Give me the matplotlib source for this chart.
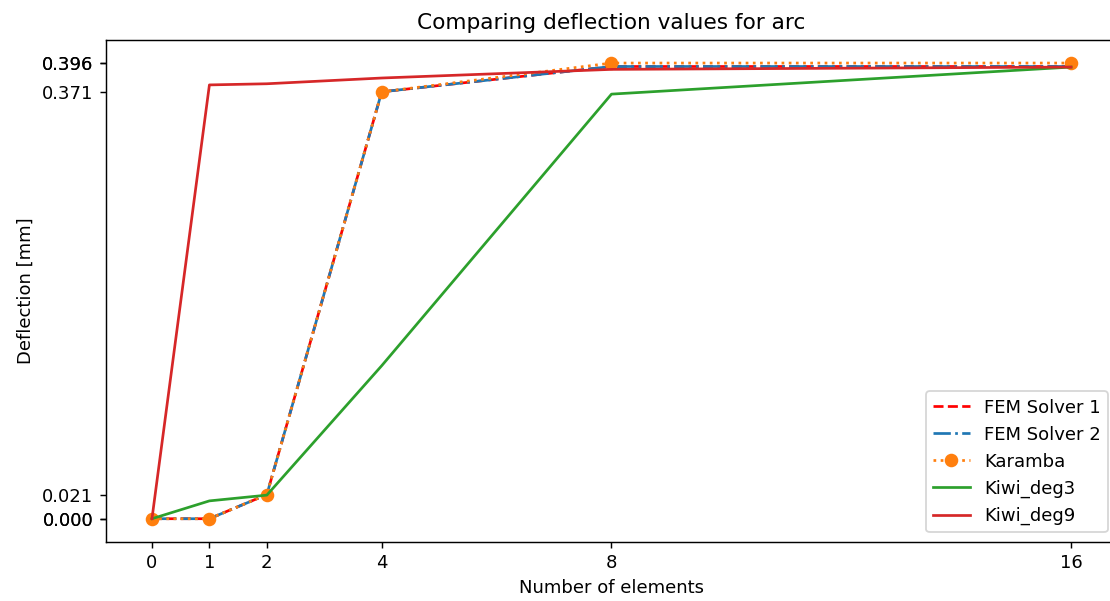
import matplotlib
matplotlib.use("Agg")
import matplotlib.pyplot as plt

elements = [0, 1, 2, 4, 8, 16]
fem_solver_1 = [0.0, 0.0, 0.021, 0.371, 0.393, 0.393]
fem_solver_2 = [0.0, 0.0, 0.021, 0.371, 0.393, 0.393]
karamba = [0.0, 0.0, 0.021, 0.371, 0.396, 0.396]
kiwi_deg3 = [0.0, 0.0155, 0.0205, 0.133, 0.369, 0.3925]
kiwi_deg9 = [0.0, 0.377, 0.378, 0.383, 0.3905, 0.3925]
ytick_values = [0.0, 0.0, 0.021, 0.371, 0.396, 0.396]

DPI = 130
fig = plt.figure(figsize=(1110 / DPI, 601 / DPI), dpi=DPI)
# the plot area runs slightly past the right edge of the canvas
ax = fig.add_axes([0.0955, 0.099, 0.9108, 0.834])

ax.plot(elements, fem_solver_1, linestyle="--", color="red", label="FEM Solver 1")
ax.plot(elements, fem_solver_2, linestyle="-.", color="C0", label="FEM Solver 2")
ax.plot(elements, karamba, linestyle=":", marker="o", markersize=6.5, color="C1", label="Karamba")
ax.plot(elements, kiwi_deg3, color="C2", label="Kiwi_deg3")
ax.plot(elements, kiwi_deg9, color="C3", label="Kiwi_deg9")

ax.set_xticks(elements)
ax.set_xticklabels([str(e) for e in elements])
ax.set_yticks(ytick_values)
ax.set_yticklabels([f"{v:.3f}" for v in ytick_values])
ax.set_xlim(-0.8, 16.8)
ax.set_ylim(-0.0198, 0.4158)

ax.set_title("Comparing deflection values for arc", fontsize=12)
ax.set_xlabel("Number of elements")
ax.set_ylabel("Deflection [mm]")
ax.legend(loc="lower right")

fig.savefig("out.png", dpi=DPI)
